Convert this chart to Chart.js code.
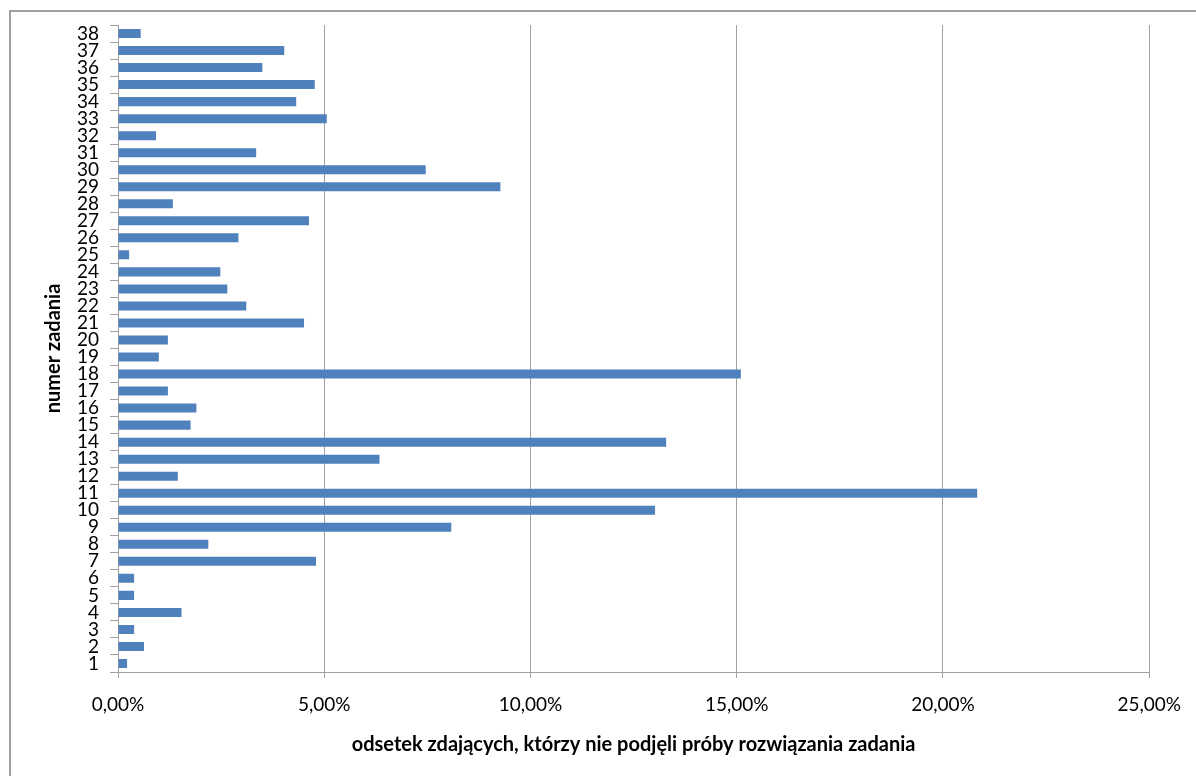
<!DOCTYPE html>
<html>
<head>
<meta charset="utf-8">
<script src="https://cdn.jsdelivr.net/npm/chart.js@4/dist/chart.umd.min.js"></script>
<style>
  html, body { margin: 0; padding: 0; background: #fff; overflow: hidden; }
  #frame {
    position: absolute; left: 9px; top: 10px; width: 1300px; height: 900px;
    border-left: 2px solid #a0a0a0; border-top: 2px solid #a0a0a0;
  }
  #wrap { position: absolute; left: 0; top: 0; width: 1196px; height: 776px; }
</style>
</head>
<body>
<div id="frame"></div>
<div id="wrap"><canvas id="chart"></canvas></div>
<script>
// numer zadania 1..38
const zadania = Array.from({ length: 38 }, (_, i) => String(i + 1));

// odsetek zdających, którzy nie podjęli próby (w %)
const odsetek = [
  0.22, 0.63, 0.39, 1.54, 0.39, 0.39, 4.80, 2.19, 8.08, 13.02,
  20.83, 1.45, 6.34, 13.29, 1.76, 1.90, 1.21, 15.10, 0.99, 1.21,
  4.51, 3.11, 2.65, 2.48, 0.27, 2.92, 4.63, 1.33, 9.27, 7.46,
  3.35, 0.92, 5.06, 4.32, 4.77, 3.50, 4.03, 0.55
];

const xTicks = [0, 5, 10, 15, 20, 25];

const gray = '#a0a0a0';
const fontFamily = 'Lato, "Open Sans", sans-serif';

document.addEventListener('DOMContentLoaded', function() {
    const ctx = document.getElementById('chart');

    new Chart(ctx, {
        type: 'bar',
        data: {
            labels: zadania,
            datasets: [{
                data: odsetek,
                backgroundColor: '#4f81bd',
                borderWidth: 0,
                barPercentage: 0.53,
                categoryPercentage: 1.0
            }]
        },
        options: {
            indexAxis: 'y',
            responsive: true,
            maintainAspectRatio: false,
            animation: false,
            layout: {
                padding: { left: 40, right: 43, top: 25, bottom: 0 }
            },
            plugins: {
                legend: { display: false },
                tooltip: { enabled: false }
            },
            scales: {
                x: {
                    min: 0,
                    max: 25,
                    afterBuildTicks: function(scale) {
                        scale.ticks = xTicks.map(v => ({ value: v }));
                    },
                    afterFit: function(scale) {
                        scale.height = 104;
                    },
                    grid: {
                        color: gray,
                        lineWidth: 1,
                        drawTicks: true,
                        tickLength: 6
                    },
                    border: { color: gray, width: 1 },
                    ticks: {
                        color: '#000',
                        padding: 15,
                        font: { family: fontFamily, size: 19 },
                        callback: function(value) {
                            return value.toFixed(2).replace('.', ',') + '%';
                        }
                    },
                    title: {
                        display: true,
                        text: 'odsetek zdających, którzy nie podjęli próby rozwiązania zadania',
                        color: '#000',
                        font: { family: fontFamily, size: 20, weight: 'bold' },
                        padding: { top: 0, bottom: 19 }
                    }
                },
                y: {
                    reverse: true,
                    afterFit: function(scale) {
                        scale.width = 78;
                    },
                    grid: {
                        offset: true,
                        drawOnChartArea: false,
                        drawTicks: true,
                        tickLength: 8,
                        color: gray
                    },
                    border: { color: gray, width: 1 },
                    ticks: {
                        autoSkip: false,
                        color: '#000',
                        padding: 11,
                        font: { family: fontFamily, size: 19 }
                    },
                    title: {
                        display: true,
                        text: 'numer zadania',
                        color: '#000',
                        font: { family: fontFamily, size: 20, weight: 'bold' },
                        padding: { top: 2, bottom: 0 }
                    }
                }
            }
        }
    });
});
</script>
</body>
</html>
